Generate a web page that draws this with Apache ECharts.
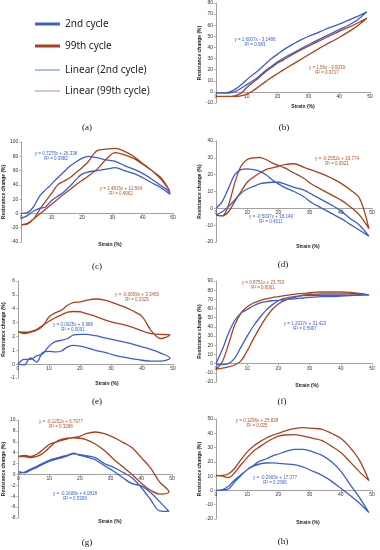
<!DOCTYPE html>
<html><head><meta charset="utf-8">
<script src="https://cdn.jsdelivr.net/npm/echarts@6/dist/echarts.min.js"></script>
<style>html,body{margin:0;padding:0;background:#fff}#c{width:380px;height:550px}</style>
</head><body><div id="c"></div>
<script>
// shared strain sampling (%)
const strain = [0,2,4,6,8,10,12,14,16,18,20,22,25,28,31,34,37,40,43,46,49];
const xTicks = [0,10,20,30,40,50];

// (b)
const b2A  = [-1,-1,-0.5,2,6,11,15.5,20,25,30,34,38,43,47.5,51,54.5,58,61,64.5,68,72];
const b2B  = [-1,-1,-1,0,3,6.5,10,14,19,23,27,30.5,35,39.5,44,48,52,56,60,65,72];
const b99A = [-4,-4,-4,-3.5,-1.5,4,8.5,13,18,22,26,29,34,38.5,42.5,46.5,50.5,54.5,58,62,66.5];
const b99B = [-4,-4,-4,-4,-3.5,-2,1,5,9,13,16.5,20,25,30,35,40,44.5,49,54,59.5,66.5];
// (c)
const c2A  = [0,1,9,24,33,41,50,58,66,72,77,80,78,75,73,67,62,56,48,39,28];
const c2B  = [-7,-3,3,7,9,18,24,30,38,47,55,58,60,62,64,60,56,50,43,36,27];
const c99A = [-16,-15,-8,5,17,28,40,45,50,57,64,72,88,90,91,87,80,70,60,48,31];
const c99B = [-16,-14,-8,-1,6,13,20,27,33,40,46,52,62,76,85,82,77,69,60,50,31];
// (d)
const d2A  = [0,4,12,20,23,23.5,23,22,20,17,14.5,12.5,10,7,3,0,-3,-6,-9.5,-13,-16.5];
const d2B  = [-4,-2,1,5,9,11.5,13,14.5,15.2,15.5,15.5,14.5,12.5,11,8,5,2,-1.5,-6,-10,-16.5];
const d99A = [-4,-4.5,2,15,25,29,30,30.2,29,27,25.5,24,21,18,14,11,8,5,1,-4,-12];
const d99B = [-4,-4.5,-2,4,10,15.5,18.5,21,23,24,25,26,26.5,24.5,22.5,20.5,18,15,11,6,-12];
// (e)
const e2A  = [0,0.35,0.35,0.6,0.75,1.3,1.62,1.72,1.85,2.12,2.15,2.15,2.05,1.9,1.75,1.6,1.45,1.25,1.05,0.8,0.45];
const e2B  = [0,-0.05,0.45,0.15,0.85,0.92,0.88,0.95,1.25,1.35,1.3,1.2,1.0,0.85,0.65,0.5,0.38,0.28,0.22,0.22,0.45];
const e99A = [2.35,2.2,2.3,2.45,2.75,3.4,3.7,3.9,4.25,4.45,4.5,4.6,4.7,4.62,4.4,4.15,3.85,3.45,2.4,1.85,2.1];
const e99B = [2.35,2.3,2.35,2.5,2.8,3.1,3.35,3.55,3.75,3.8,3.78,3.65,3.45,3.2,3.0,2.85,2.65,2.4,2.2,2.15,2.1];
// (f)
const f2A  = [0,15,33,47,55,59,63,66,67.5,68.5,69,69.5,70.5,71.5,72.5,73,73,73.5,74,74.5,75];
const f2B  = [-1,-1,0,6,18,30,41,50,58,64,68.5,71,73,74,74.5,74.5,74.5,74.5,74.5,75,75];
const f99A = [-6,2,21,42,55,62,66,68.5,70.5,72,73,74,75.5,76.5,77.5,78,78,78,77.5,76.5,75];
const f99B = [-6,-5,-3.5,-1.5,3,14,27,39,50,59,65,69,72,74.5,75.5,76,76,76,76,75.5,75];
// (g)
const g2A  = [0.2,0.45,1.0,1.5,2.1,2.6,2.95,3.25,3.55,3.9,3.5,3.25,2.7,1.6,0.6,-0.6,-1.7,-2.1,-3.3,-5.0,-6.8];
const g2B  = [0.5,0.3,0.8,1.3,1.9,2.4,2.75,3.05,3.4,3.8,3.65,3.45,3.1,2.0,1.3,0.4,-0.6,-2.4,-4.6,-6.7,-6.8];
const g99A = [3.3,3.3,3.1,3.3,3.9,4.9,5.9,6.45,6.65,6.8,7.0,7.5,7.8,7.5,6.8,5.9,4.9,3.1,1.2,-1.4,-3.2];
const g99B = [3.3,3.5,3.3,3.7,4.6,5.5,5.9,6.25,6.55,6.7,6.65,6.4,5.6,4.4,2.8,1.4,0,-1.6,-2.9,-3.6,-3.2];
// (h)
const h2A  = [0,0.5,3,7.5,11,14.5,17.5,20.5,22,24,25.5,27,28.8,28.8,27,24.5,20,13.5,4,-5,-15.5];
const h2B  = [0,0.2,1,6,10.5,14.5,17,18.5,19.2,19.3,19,18.6,18,16.3,13.5,10.5,6.5,1.5,-3.5,-9,-15.5];
const h99A = [10,10.5,11.5,15.5,21.5,27,31,34,36.5,38.5,40,41.5,43.2,44,43.5,42.8,40,36.5,30,21,7];
const h99B = [10.5,10,9,12.5,18,23,27.5,30.5,33.5,36,38,38.8,39,38,36.5,34.8,31,26.5,20,13,7];

// trend-line equations (text)
const eq2  = {b:['y = 1.6007x - 3.1486','R² = 0.983'], c:['y = 0.7275x + 26.338','R² = 0.3982'], d:['y = -0.5037x + 18.149','R² = 0.4511'], e:['y = 0.0025x + 0.986','R² = 0.0001'], f:['y = 1.2017x + 31.423','R² = 0.5907'], g:['y = -0.1608x + 4.0818','R² = 0.5309'], h:['y = -0.2909x + 17.377','R² = 0.1566']};
const eq99 = {b:['y = 1.56x - 9.6039','R² = 0.9717'], c:['y = 1.4815x + 12.564','R² = 0.4062'], d:['y = -0.2552x + 19.774','R² = 0.0921'], e:['y = -0.0659x + 3.3456','R² = 0.2325'], f:['y = 0.8751x + 23.753','R² = 0.6001'], g:['y = -0.1252x + 6.7977','R² = 0.3288'], h:['y = 0.1296x + 25.828','R² = 0.025']};
const yRanges = {b:[-10,80,10], c:[-40,100,20], d:[-20,40,10], e:[-1,6,1], f:[-20,90,10], g:[-8,10,2], h:[-20,50,10]};
const curves = {b:[b2A,b2B,b99A,b99B], c:[c2A,c2B,c99A,c99B], d:[d2A,d2B,d99A,d99B], e:[e2A,e2B,e99A,e99B], f:[f2A,f2B,f99A,f99B], g:[g2A,g2B,g99A,g99B], h:[h2A,h2B,h99A,h99B]};
const legendNames = ['2nd cycle','99th cycle','Linear (2nd cycle)','Linear (99th cycle)'];

// layout (pixels)
const layout = {
  b:{grid:[216,3,154,100],  sx:303, sy:107, lx:284, ly:128, e2:[255,37],  e99:[327,65]},
  c:{grid:[21,142,152,100], sx:110, sy:245, lx:97,  ly:267, e2:[56,151],  e99:[121,186]},
  d:{grid:[216,141,156,101],sx:308, sy:247, lx:283, ly:265, e2:[271,214], e99:[337,156]},
  e:{grid:[17,281,156,97],  sx:107, sy:384, lx:97,  ly:402, e2:[73,322],  e99:[137,292]},
  f:{grid:[216,281,156,101],sx:307, sy:386, lx:282, ly:402, e2:[305,321], e99:[263,280]},
  g:{grid:[18,420,154,98],  sx:110, sy:522, lx:87,  ly:543, e2:[75,491],  e99:[61,419]},
  h:{grid:[216,419,156,100],sx:308, sy:523, lx:283, ly:542, e2:[275,475], e99:[257,418]}
};
const C2 = '#3d5ec6', C99 = '#a8421d';
const FONT = 'Liberation Sans';

function loop(a, b) {
  const up = strain.map((x,i)=>[x,a[i]]);
  const dn = strain.map((x,i)=>[x,b[i]]).reverse();
  return up.concat(dn);
}

const grids=[], xAxes=[], yAxes=[], series=[], graphics=[];
Object.keys(layout).forEach((k, idx) => {
  const L = layout[k], [ymin,ymax,yint] = yRanges[k];
  const h = L.grid[3];
  // x axis crosses the y axis at zero (Excel style): shift bottom axis up to y = 0
  const zeroShift = -h * (0 - ymin) / (ymax - ymin);
  grids.push({left:L.grid[0], top:L.grid[1], width:L.grid[2], height:h, containLabel:false});
  xAxes.push({type:'value', gridIndex:idx, min:0, max:50, interval:10, position:'bottom', offset:zeroShift,
    axisLine:{onZero:false, lineStyle:{color:'#8a8a8a', width:0.8}},
    axisTick:{show:true, length:2, lineStyle:{color:'#8a8a8a', width:0.6}},
    axisLabel:{fontSize:5, color:'#333', margin:2, fontFamily:FONT, hideOverlap:false},
    splitLine:{show:false}});
  yAxes.push({type:'value', gridIndex:idx, min:ymin, max:ymax, interval:yint,
    name:'Resistance change (%)', nameLocation:'middle', nameGap:12, nameRotate:90,
    nameTextStyle:{fontSize:5, fontWeight:'bold', color:'#222', fontFamily:FONT},
    axisLine:{show:true, onZero:false, lineStyle:{color:'#8a8a8a', width:0.8}},
    axisTick:{show:true, length:2, lineStyle:{color:'#8a8a8a', width:0.6}},
    axisLabel:{fontSize:5, color:'#333', margin:3, fontFamily:FONT},
    splitLine:{show:false}});
  const [a2,b2,a99,b99] = curves[k];
  series.push({name:'2nd cycle', type:'line', xAxisIndex:idx, yAxisIndex:idx, data:loop(a2,b2),
    smooth:0.35, showSymbol:false, color:C2, lineStyle:{width:1.3, color:C2}, z:3});
  series.push({name:'99th cycle', type:'line', xAxisIndex:idx, yAxisIndex:idx, data:loop(a99,b99),
    smooth:0.35, showSymbol:false, color:C99, lineStyle:{width:1.3, color:C99}, z:2});
  graphics.push({type:'text', x:L.sx, y:L.sy, style:{text:'Strain (%)', font:'bold 5px '+FONT, fill:'#222', textAlign:'center', textVerticalAlign:'middle'}});
  graphics.push({type:'text', x:L.lx, y:L.ly, style:{text:'('+k+')', font:'9px "Liberation Serif"', fill:'#111', textAlign:'center', textVerticalAlign:'middle'}});
  graphics.push({type:'text', x:L.e2[0], y:L.e2[1], style:{text:eq2[k].join('\n'), font:'4.5px '+FONT, fill:'#3b62c8', textAlign:'center', lineHeight:5.5}});
  graphics.push({type:'text', x:L.e99[0], y:L.e99[1], style:{text:eq99[k].join('\n'), font:'4.5px '+FONT, fill:'#b5532f', textAlign:'center', lineHeight:5.5}});
});
graphics.push({type:'text', x:87, y:128, style:{text:'(a)', font:'9px "Liberation Serif"', fill:'#111', textAlign:'center', textVerticalAlign:'middle'}});

series.push({name:'Linear (2nd cycle)', type:'line', xAxisIndex:0, yAxisIndex:0, data:[], color:'#5b7fd6', lineStyle:{width:1}});
series.push({name:'Linear (99th cycle)', type:'line', xAxisIndex:0, yAxisIndex:0, data:[], color:'#c98a78', lineStyle:{width:1}});

const chart = echarts.init(document.getElementById('c'), null, {renderer:'canvas'});
chart.setOption({
  animation:false,
  backgroundColor:'#fff',
  grid:grids, xAxis:xAxes, yAxis:yAxes, series:series, graphic:graphics,
  legend:[
    {data:legendNames.slice(0,2), orient:'vertical', left:30, top:14, itemWidth:25, itemHeight:3, itemGap:12, icon:'rect',
     textStyle:{fontSize:10, color:'#222', fontFamily:'Noto Sans'}, selectedMode:false},
    {data:legendNames.slice(2), orient:'vertical', left:30, top:60, itemWidth:25, itemHeight:1, itemGap:11, icon:'rect',
     textStyle:{fontSize:10, color:'#222', fontFamily:'Noto Sans'}, selectedMode:false}
  ]
});
</script></body></html>
